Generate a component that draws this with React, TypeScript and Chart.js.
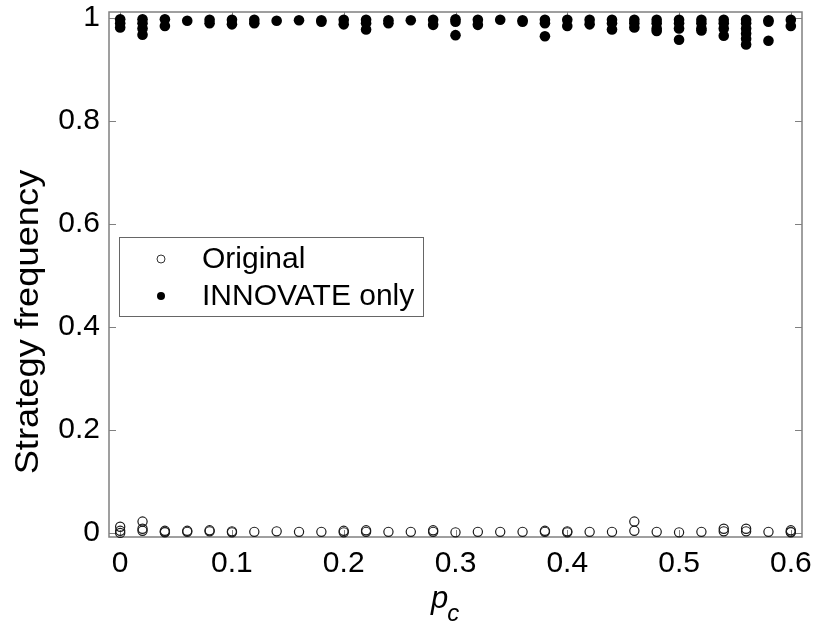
import React, { useEffect, useRef } from "react";
import { Chart, registerables } from "chart.js";

Chart.register(...registerables);

const pcValues: number[] = [
  0, 0.02, 0.04, 0.06, 0.08, 0.1, 0.12, 0.14, 0.16, 0.18, 0.2, 0.22, 0.24, 0.26, 0.28, 0.3,
  0.32, 0.34, 0.36, 0.38, 0.4, 0.42, 0.44, 0.46, 0.48, 0.5, 0.52, 0.54, 0.56, 0.58, 0.6,
];

const originalRuns: number[][] = [
  [0.012, 0.004, 0.0],
  [0.022, 0.008, 0.004],
  [0.004, 0.002, 0.001],
  [0.004, 0.002],
  [0.005, 0.003],
  [0.003, 0.001],
  [0.002],
  [0.003],
  [0.002],
  [0.002],
  [0.004, 0.001],
  [0.005, 0.002],
  [0.002],
  [0.002],
  [0.005, 0.002],
  [0.001],
  [0.002],
  [0.002],
  [0.002],
  [0.004, 0.002],
  [0.003, 0.001],
  [0.002],
  [0.002],
  [0.022, 0.004],
  [0.002],
  [0.001],
  [0.002],
  [0.008, 0.003],
  [0.008, 0.003],
  [0.002],
  [0.005, 0.002, 0.001],
];

const innovateRuns: number[][] = [
  [0.998, 0.99, 0.982],
  [0.998, 0.99, 0.98, 0.968],
  [0.998, 0.985],
  [0.995],
  [0.997, 0.99],
  [0.997, 0.988],
  [0.997, 0.99],
  [0.995],
  [0.996],
  [0.996, 0.993],
  [0.997, 0.988],
  [0.997, 0.99, 0.978],
  [0.996, 0.99],
  [0.996],
  [0.997, 0.987],
  [0.998, 0.993, 0.967],
  [0.997, 0.987],
  [0.997],
  [0.996, 0.993],
  [0.997, 0.99, 0.965],
  [0.997, 0.985],
  [0.997, 0.988],
  [0.997, 0.99, 0.978],
  [0.997, 0.99, 0.982],
  [0.997, 0.99, 0.98, 0.975],
  [0.997, 0.99, 0.98, 0.958],
  [0.997, 0.99, 0.98, 0.976],
  [0.997, 0.99, 0.98, 0.966],
  [0.997, 0.99, 0.98, 0.97, 0.96, 0.949],
  [0.996, 0.993, 0.956],
  [0.997, 0.985],
];

const xTickValues: number[] = [0, 0.1, 0.2, 0.3, 0.4, 0.5, 0.6];
const yTickValues: number[] = [0, 0.2, 0.4, 0.6, 0.8, 1];
const seriesLabels: string[] = ["Original", "INNOVATE only"];
const yTitle = "Strategy frequency";
const xTitleMain = "p";
const xTitleSub = "c";

const FONT = "'Liberation Sans', Arial, Helvetica, sans-serif";
const FRAME = "#808080";

const framePlugin = {
  id: "matlabFrame",
  beforeDatasetsDraw(chart: any) {
    const { ctx, chartArea: a, scales } = chart;
    ctx.save();
    ctx.strokeStyle = FRAME;
    ctx.lineWidth = 1.5;
    ctx.strokeRect(a.left, a.top, a.right - a.left, a.bottom - a.top);
    ctx.lineWidth = 1;
    ctx.beginPath();
    const tl = 7;
    for (const v of yTickValues) {
      const y = Math.round(scales.y.getPixelForValue(v)) + 0.5;
      ctx.moveTo(a.left, y);
      ctx.lineTo(a.left + tl, y);
      ctx.moveTo(a.right, y);
      ctx.lineTo(a.right - tl, y);
    }
    for (const v of xTickValues) {
      const x = Math.round(scales.x.getPixelForValue(v)) + 0.5;
      ctx.moveTo(x, a.bottom);
      ctx.lineTo(x, a.bottom - tl);
      ctx.moveTo(x, a.top);
      ctx.lineTo(x, a.top + tl);
    }
    ctx.stroke();
    ctx.restore();
  },
  afterDraw(chart: any) {
    const { ctx } = chart;
    ctx.save();
    ctx.fillStyle = "#000";
    // y title
    ctx.font = `33px ${FONT}`;
    ctx.translate(29, 322);
    ctx.rotate(-Math.PI / 2);
    ctx.scale(1.1, 1);
    ctx.textAlign = "center";
    ctx.textBaseline = "middle";
    ctx.fillText(yTitle, 0, 0);
    ctx.restore();

    ctx.save();
    ctx.fillStyle = "#000";
    ctx.textBaseline = "alphabetic";
    ctx.textAlign = "left";
    ctx.font = `italic 31px ${FONT}`;
    const px = 431;
    ctx.fillText(xTitleMain, px, 608);
    const w = ctx.measureText(xTitleMain).width;
    ctx.font = `italic 24px ${FONT}`;
    ctx.fillText(xTitleSub, px + w - 1, 621);
    ctx.restore();

    // legend
    ctx.save();
    const bx = 119, by = 237, bw = 304, bh = 79;
    ctx.fillStyle = "#fff";
    ctx.fillRect(bx, by, bw, bh);
    ctx.strokeStyle = "#666";
    ctx.lineWidth = 1;
    ctx.strokeRect(bx + 0.5, by + 0.5, bw, bh);
    const rows = [259, 296];
    ctx.font = `30px ${FONT}`;
    ctx.textBaseline = "middle";
    ctx.fillStyle = "#000";
    chart.data.datasets.forEach((ds: any, i: number) => {
      const cy = rows[i];
      ctx.beginPath();
      ctx.arc(161, cy, 4, 0, Math.PI * 2);
      if (i === 0) {
        ctx.strokeStyle = "#333";
        ctx.lineWidth = 1;
        ctx.stroke();
      } else {
        ctx.fillStyle = "#000";
        ctx.fill();
      }
      ctx.fillStyle = "#000";
      ctx.fillText(ds.label, 202, cy + 1);
    });
    ctx.restore();
  },
};

export default function App() {
  const ref = useRef<HTMLCanvasElement | null>(null);
  useEffect(() => {
    if (!ref.current) return;
    const origData = pcValues.flatMap((x, i) => originalRuns[i].map((y) => ({ x, y })));
    const innoData = pcValues.flatMap((x, i) => innovateRuns[i].map((y) => ({ x, y })));
    const chart = new Chart(ref.current, {
      type: "scatter",
      data: {
        datasets: [
          {
            label: seriesLabels[0],
            data: origData,
            pointRadius: 4.6,
            pointBorderWidth: 1.2,
            pointBorderColor: "#1a1a1a",
            pointBackgroundColor: "rgba(0,0,0,0)",
            clip: false as any,
          },
          {
            label: seriesLabels[1],
            data: innoData,
            pointRadius: 5.3,
            pointBorderWidth: 0,
            pointBackgroundColor: "#000",
            pointBorderColor: "#000",
            clip: false as any,
          },
        ],
      },
      options: {
        animation: false,
        responsive: false,
        events: [],
        layout: { padding: { left: 0, top: 12, right: 13, bottom: 0 } },
        plugins: { legend: { display: false }, tooltip: { enabled: false } },
        scales: {
          x: {
            type: "linear",
            min: -0.01,
            max: 0.61,
            grid: { display: false, drawTicks: false },
            border: { display: false },
            afterFit: (s: any) => {
              s.height = 90;
              s.paddingLeft = 0;
              s.paddingRight = 0;
            },
            afterBuildTicks: (s: any) => {
              s.ticks = xTickValues.map((v) => ({ value: v }));
            },
            ticks: {
              padding: 9,
              color: "#000",
              font: { size: 30, family: FONT },
              maxRotation: 0,
              callback: (v: any) => String(v),
            },
          },
          y: {
            type: "linear",
            min: -0.008,
            max: 1.012,
            grid: { display: false, drawTicks: false },
            border: { display: false },
            afterFit: (s: any) => {
              s.width = 109;
              s.paddingTop = 0;
              s.paddingBottom = 0;
            },
            afterBuildTicks: (s: any) => {
              s.ticks = yTickValues.map((v) => ({ value: v }));
            },
            ticks: {
              padding: 9,
              color: "#000",
              font: { size: 30, family: FONT },
              callback: (v: any) => String(v),
            },
          },
        },
      },
      plugins: [framePlugin],
    });
    return () => chart.destroy();
  }, []);
  return (
    <div style={{ position: "fixed", left: 0, top: 0, width: 815, height: 627, background: "#fff" }}>
      <canvas ref={ref} width={815} height={627} style={{ width: 815, height: 627, display: "block" }} />
    </div>
  );
}
